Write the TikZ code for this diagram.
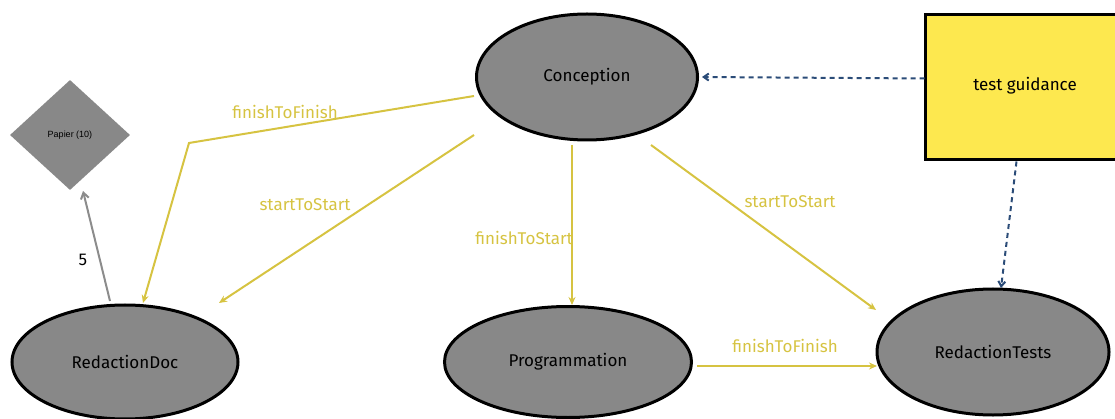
\documentclass[tikz,border=0pt]{standalone}
\usepackage{fontspec}
\setmainfont{Fira Sans}
\newfontfamily\papierfont{Liberation Sans}
\usetikzlibrary{arrows.meta,shapes.geometric,calc}
\definecolor{nodegray}{HTML}{888888}
\definecolor{linkyellow}{HTML}{D6C341}
\definecolor{boxyellow}{HTML}{FDE84F}
\definecolor{dashblue}{HTML}{2B4C78}
\definecolor{arrowgray}{HTML}{8C8C8C}
\tikzset{
  task/.style={ellipse,draw=black,line width=3pt,fill=nodegray,inner sep=0pt,font=\fontsize{17}{20}\selectfont},
  link/.style={draw=linkyellow,line width=2pt,-{Stealth[length=8pt,width=7pt]}},
  linklabel/.style={text=linkyellow,font=\fontsize{17}{20}\selectfont},
  guide/.style={draw=dashblue,line width=2pt,dash pattern=on 5pt off 4pt,-{Straight Barb[length=5pt,width=7pt]}},
  resource/.style={diamond,fill=nodegray,inner sep=0pt,minimum width=120pt,minimum height=110pt,aspect=1.09,font=\papierfont\fontsize{9}{11}\selectfont},
  usage/.style={draw=arrowgray,line width=2pt,-{Straight Barb[length=6pt,width=8pt]}},
  notebox/.style={rectangle,draw=black,line width=3pt,fill=boxyellow,inner sep=0pt,minimum width=202pt,minimum height=145pt}
}
\begin{document}
\begin{tikzpicture}[x=1pt,y=-1pt]
\useasboundingbox (0,0) rectangle (1115,419);
\clip (0,0) rectangle (1115,419);
\node[task,minimum width=221pt,minimum height=126pt] (Conception) at (587,77) {Conception};
\node[task,minimum width=226pt,minimum height=114pt] (RedactionDoc) at (125,362) {RedactionDoc};
\node[task,minimum width=247pt,minimum height=111pt] (Programmation) at (568,362) {Programmation};
\node[task,minimum width=232pt,minimum height=126pt] (RedactionTests) at (993,352) {RedactionTests};
\node[notebox,anchor=north west] (guidance) at (924,13) {};
\node[font=\fontsize{17}{20}\selectfont] (guidancetext) at (1025,86) {test guidance};
\node[resource] (Papier) at (70,135) {Papier (10)};

\coordinate (bend) at (189,143);
\draw[link] ([shift={(-113,19)}]Conception.center) -- (bend) -- ([shift={(18,-59)}]RedactionDoc.center);
\node[linklabel] (lffdoc) at (285,112) {finishToFinish};
\draw[link] ([shift={(-113,58)}]Conception.center) -- ([shift={(94,-59)}]RedactionDoc.center);
\node[linklabel] (lssdoc) at (305,205) {startToStart};
\draw[link] ([shift={(-15,68)}]Conception.center) -- ([shift={(4,-57)}]Programmation.center);
\node[linklabel] (lfsprog) at (524,238) {finishToStart};
\draw[link] ([shift={(64,68)}]Conception.center) -- ([shift={(-117,-42)}]RedactionTests.center);
\node[linklabel] (lsstest) at (790,202) {startToStart};
\draw[link] ([shift={(129,4)}]Programmation.center) -- ([shift={(-116,14)}]RedactionTests.center);
\node[linklabel] (lfftest) at (785,346) {finishToFinish};

\draw[usage] ([shift={(-15,-61)}]RedactionDoc.center) -- ([shift={(13,56)}]Papier.center);
\node[font=\fontsize{17}{20}\selectfont] (qty) at (83,260) {5};

\draw[guide] ([shift={(-102,-8.5)}]guidance.center) -- ([shift={(115,0)}]Conception.center);
\draw[guide] ([shift={(-10,74.5)}]guidance.center) -- ([shift={(8,-64)}]RedactionTests.center);
\end{tikzpicture}
\end{document}
